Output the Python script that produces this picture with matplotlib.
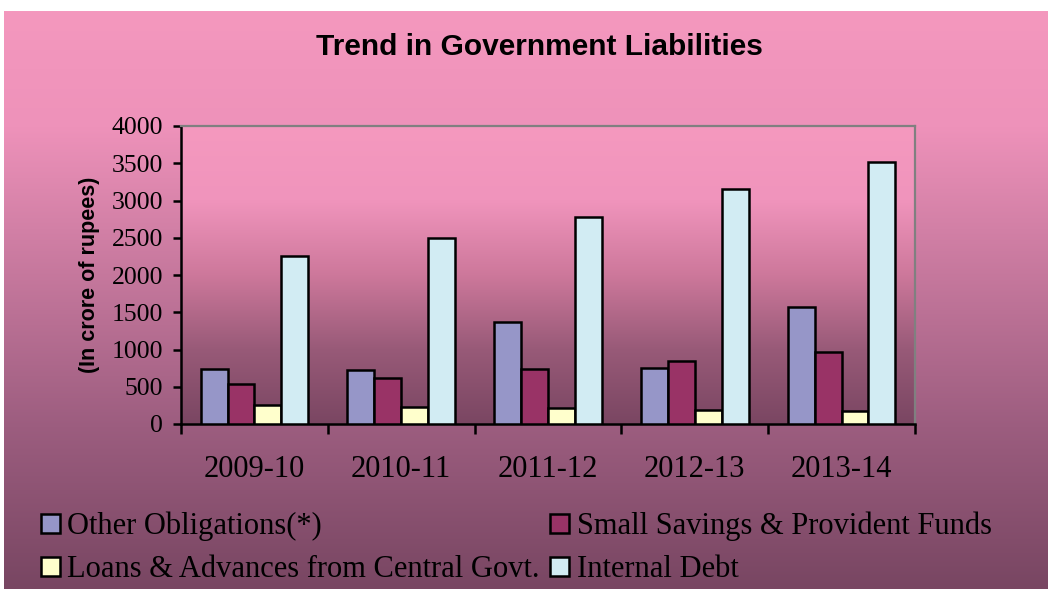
import numpy as np
import matplotlib
matplotlib.use('Agg')
import matplotlib.pyplot as plt
from matplotlib.patches import Rectangle

# ---------------- data ----------------
years = ['2009-10', '2010-11', '2011-12', '2012-13', '2013-14']
other_obligations = [740, 730, 1365, 748, 1575]
small_savings = [535, 622, 734, 840, 965]
loans_advances = [255, 232, 211, 192, 170]
internal_debt = [2260, 2497, 2782, 3158, 3512]
series_names = ['Other Obligations(*)', 'Small Savings & Provident Funds',
                'Loans & Advances from Central Govt.', 'Internal Debt']
yticks = [0, 500, 1000, 1500, 2000, 2500, 3000, 3500, 4000]

colors = ['#9696C8', '#993366', '#FFFFCC', '#D2ECF3']
series = [other_obligations, small_savings, loans_advances, internal_debt]

W, H = 1054, 590
fig = plt.figure(figsize=(W / 100, H / 100), dpi=100)
fig.patch.set_facecolor('white')


def gradient(stops, n=512):
    t = np.linspace(0, 1, n)
    pos = [s[0] for s in stops]
    chans = [np.interp(t, pos, [s[1][c] for s in stops]) for c in range(3)]
    return (np.stack(chans, axis=-1) / 255.0)[:, None, :]


# chart background gradient
bg = fig.add_axes([4 / W, 1 - 589 / H, 1044 / W, 578 / H], zorder=-10)
bg_img = gradient([(0.0, (244, 152, 190)), (0.2, (238, 146, 186)),
                   (0.72, (156, 93, 127)), (1.0, (120, 70, 98))])
bg.imshow(bg_img, aspect='auto', extent=[0, 1, 0, 1], origin='upper')
bg.set_xlim(0, 1)
bg.set_ylim(0, 1)
bg.axis('off')

# plot area
ax = fig.add_axes([181 / W, 1 - 424 / H, 734 / W, 298 / H])
ax.set_facecolor('none')
plot_img = gradient([(0.0, (245, 153, 191)), (0.25, (240, 148, 188)),
                     (0.5, (205, 120, 155)), (0.75, (152, 90, 120)),
                     (1.0, (122, 70, 98))])
ax.imshow(plot_img, aspect='auto', extent=[0, 5, 0, 4000], origin='upper', zorder=0)

x = np.arange(len(years)) + 0.5
w = 0.183
for k, (vals, col) in enumerate(zip(series, colors)):
    ax.bar(x + (k - 1.5) * w, vals, w, color=col, edgecolor='black',
           linewidth=1.8, zorder=3, label=series_names[k])

ax.set_xlim(0, 5)
ax.set_ylim(0, 4000)
ax.set_aspect('auto')

for s in ['left', 'bottom']:
    ax.spines[s].set_color('black')
    ax.spines[s].set_linewidth(1.8)
for s in ['top', 'right']:
    ax.spines[s].set_color('#808080')
    ax.spines[s].set_linewidth(1.6)

ax.set_xticks(x)
ax.set_xticklabels(years, fontsize=22, family='Liberation Serif')
ax.set_xticks(np.arange(0, 6), minor=True)
ax.tick_params(axis='x', which='major', length=0, pad=22)
ax.tick_params(axis='x', which='minor', length=7, width=1.8, direction='out', color='black')

ax.set_yticks(yticks)
ax.set_yticklabels([str(v) for v in yticks], fontsize=18.5, family='Liberation Serif')
ax.tick_params(axis='y', length=6, width=1.8, direction='out', pad=7, color='black')

# y label
fig.text(90 / W, 1 - 275 / H, '(In crore of rupees)', rotation=90, fontsize=15.5,
         fontweight='bold', family='Liberation Sans', ha='center', va='center')

# title
fig.text(539 / W, 1 - 47 / H, 'Trend in Government Liabilities', fontsize=21.5,
         fontweight='bold', family='Liberation Sans', ha='center', va='center')

# legend (2x2 grid)
layout = [(0, 0), (1, 0), (0, 1), (1, 1)]  # (col,row) for each series
marker_x = [41, 550]
text_x = [67, 577]
row_top = [514, 557]
baseline = [534, 577]
for k, (c, r) in enumerate(layout):
    rect = Rectangle((marker_x[c] / W, 1 - (row_top[r] + 19) / H), 19 / W, 19 / H,
                     transform=fig.transFigure, facecolor=colors[k],
                     edgecolor='black', linewidth=1.8)
    fig.add_artist(rect)
    fig.text(text_x[c] / W, 1 - baseline[r] / H, series_names[k], fontsize=22,
             family='Liberation Serif', ha='left', va='baseline')

fig.savefig('out.png', dpi=100)
